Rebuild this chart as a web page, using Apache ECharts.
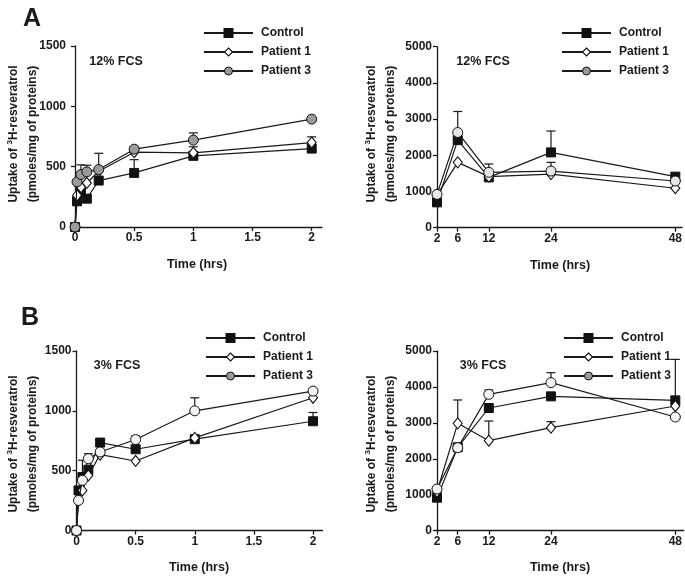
<!DOCTYPE html>
<html>
<head>
<meta charset="utf-8">
<script src="https://cdn.jsdelivr.net/npm/echarts@6/dist/echarts.min.js"></script>
<style>html,body{margin:0;padding:0;background:#fff}#c{width:685px;height:576px}</style>
</head>
<body>
<div id="c"></div>
<script>
// ---------- data ----------
var timeShort = [0, 0.017, 0.05, 0.1, 0.2, 0.5, 1, 2];
var timeLong = [2, 6, 12, 24, 48];
var shortTicks = [0, 0.5, 1, 1.5, 2];
var longTicks = [2, 6, 12, 24, 48];
var seriesNames = ['Control', 'Patient 1', 'Patient 3'];

// Panel A (12% FCS), short times
var ctrlA = [0, 213, 290, 235, 385, 448, 590, 650];
var p1A = [0, 262, 330, 365, 462, 620, 615, 700];
var p3A = [0, 374, 435, 457, 476, 645, 720, 894];
var ctrlAErr = [0, 0, 0, 0, 0, 110, 0, 0];
var p1AErr = [0, 0, 0, 0, 0, 0, 50, 47];
var p3AErr = [0, 0, 80, 55, 135, 20, 60, 0];

// Panel A (12% FCS), long times
var ctrlAL = [700, 2420, 1390, 2080, 1410];
var p1AL = [900, 1805, 1410, 1480, 1090];
var p3AL = [920, 2630, 1530, 1565, 1290];
var ctrlALErr = [0, 790, 0, 590, 0];
var p1ALErr = [0, 0, 0, 0, 0];
var p3ALErr = [0, 0, 230, 240, 0];

// Panel B (3% FCS), short times
var ctrlB = [0, 335, 447, 508, 735, 679, 763, 913];
var p1B = [0, 251, 335, 460, 634, 581, 774, 1109];
var p3B = [0, 251, 419, 600, 656, 760, 1000, 1165];
var ctrlBErr = [0, 0, 140, 0, 0, 0, 0, 73];
var p1BErr = [0, 0, 0, 0, 0, 0, 0, 0];
var p3BErr = [0, 60, 0, 42, 0, 30, 109, 0];

// Panel B (3% FCS), long times
var ctrlBL = [918, 2320, 3414, 3738, 3627];
var p1BL = [1085, 2987, 2505, 2866, 3469];
var p3BL = [1160, 2310, 3794, 4119, 3163];
var ctrlBLErr = [0, 0, 0, 0, 1140];
var p1BLErr = [0, 650, 547, 167, 0];
var p3BLErr = [0, 0, 120, 278, 0];

// ---------- chart ----------
var FONT = 'Liberation Sans, Arial, sans-serif';
var INK = '#1a1a1a';
function zip(xs, ys) { return xs.map(function (x, i) { return [x, ys[i]]; }); }
function zip3(xs, ys, es) { return xs.map(function (x, i) { return [x, ys[i], es[i]]; }); }

var grids = [
  { left: 71, top: 46, width: 251, height: 181 },
  { left: 437, top: 46.7, width: 248, height: 181 },
  { left: 76.5, top: 351, width: 246, height: 179.5 },
  { left: 437, top: 351, width: 248, height: 179.7 }
];
var xRanges = [[-0.034, 2.087], [2, 49.3], [0, 2.08], [2, 49.6]];
var yMax = [1500, 5000, 1500, 5000];
var yInt = [500, 1000, 500, 1000];

var xAxes = grids.map(function (g, i) {
  var ticks = (i % 2 === 0) ? shortTicks : longTicks;
  return {
    type: 'value', gridIndex: i, min: xRanges[i][0], max: xRanges[i][1],
    splitLine: { show: false },
    axisLine: { show: true, lineStyle: { color: INK, width: 1.3 } },
    axisTick: { show: true, length: 4, inside: false, customValues: ticks, lineStyle: { color: INK, width: 1.3 } },
    axisLabel: { customValues: ticks, color: INK, fontSize: 12, fontWeight: 'bold', fontFamily: FONT, margin: 5,
      formatter: function (v) { return String(v); } }
  };
});
var yAxes = grids.map(function (g, i) {
  return {
    type: 'value', gridIndex: i, min: 0, max: yMax[i], interval: yInt[i],
    splitLine: { show: false },
    axisLine: { show: true, lineStyle: { color: INK, width: 1.3 } },
    axisTick: { show: true, length: 4, lineStyle: { color: INK, width: 1.3 } },
    axisLabel: { color: INK, fontSize: 12, fontWeight: 'bold', fontFamily: FONT, margin: 5,
      formatter: function (v) { return String(v); } }
  };
});

var styles = [
  { symbol: 'rect', symbolSize: 9, itemStyle: { color: '#111', borderColor: '#111', borderWidth: 1 } },
  { symbol: 'diamond', symbolSize: [9, 11], itemStyle: { color: '#fff', borderColor: '#111', borderWidth: 1.1 } },
  { symbol: 'circle', symbolSize: 10, itemStyle: { color: '#999', borderColor: '#111', borderWidth: 1 } }
];
var p3FillByPanel = ['#9a9a9a', '#e6e6e6', '#f2f2f2', '#f2f2f2'];

var panels = [
  { x: timeShort, ys: [ctrlA, p1A, p3A], es: [ctrlAErr, p1AErr, p3AErr] },
  { x: timeLong, ys: [ctrlAL, p1AL, p3AL], es: [ctrlALErr, p1ALErr, p3ALErr] },
  { x: timeShort, ys: [ctrlB, p1B, p3B], es: [ctrlBErr, p1BErr, p3BErr] },
  { x: timeLong, ys: [ctrlBL, p1BL, p3BL], es: [ctrlBLErr, p1BLErr, p3BLErr] }
];

function renderErr(params, api) {
  var x = api.value(0), y = api.value(1), e = api.value(2);
  if (!e) return null;
  var p0 = api.coord([x, y]);
  var p1 = api.coord([x, y + e]);
  return {
    type: 'group', children: [
      { type: 'line', shape: { x1: p0[0], y1: p0[1], x2: p1[0], y2: p1[1] }, style: { stroke: INK, lineWidth: 1.2 } },
      { type: 'line', shape: { x1: p1[0] - 4.5, y1: p1[1], x2: p1[0] + 4.5, y2: p1[1] }, style: { stroke: INK, lineWidth: 1.2 } }
    ]
  };
}

var series = [];
panels.forEach(function (p, pi) {
  p.ys.forEach(function (ys, si) {
    series.push({
      type: 'custom', name: seriesNames[si] + ' err', xAxisIndex: pi, yAxisIndex: pi,
      renderItem: renderErr, data: zip3(p.x, ys, p.es[si]), z: 1, silent: true,
      encode: { x: 0, y: 1 }
    });
  });
  p.ys.forEach(function (ys, si) {
    var st = styles[si];
    var item = JSON.parse(JSON.stringify(st.itemStyle));
    if (si === 2) item.color = p3FillByPanel[pi];
    series.push({
      type: 'line', name: seriesNames[si], xAxisIndex: pi, yAxisIndex: pi,
      data: zip(p.x, ys), symbol: st.symbol, symbolSize: st.symbolSize,
      showAllSymbol: true, clip: false,
      itemStyle: item, lineStyle: { color: INK, width: 1.2 }, z: 3 + si, animation: false
    });
  });
});

var legendPos = [[198, 22], [556, 22], [200, 327], [558, 327]];
var legendData = [
  { name: 'Control', itemStyle: { color: '#111' } },
  { name: 'Patient 1', itemStyle: { color: '#fff', borderColor: '#111', borderWidth: 1.1 } },
  { name: 'Patient 3', itemStyle: { color: '#999', borderColor: '#111', borderWidth: 1 } }
];
var legends = legendPos.map(function (lp) {
  return {
    left: lp[0], top: lp[1], orient: 'vertical', itemWidth: 49, itemHeight: 10, itemGap: 7,
    selectedMode: false, data: legendData,
    textStyle: { color: INK, fontSize: 12, fontWeight: 'bold', fontFamily: FONT, padding: [0, 0, 0, 3] }
  };
});

function txt(x, y, text, size, extra) {
  var o = {
    type: 'text', x: x, y: y, z: 10,
    style: { text: text, fill: INK, font: 'bold ' + size + 'px ' + FONT, textAlign: 'center', textVerticalAlign: 'middle' }
  };
  if (extra) for (var k in extra) o[k] = extra[k];
  return o;
}
function yName(x, y) {
  return {
    type: 'text', x: x, y: y, rotation: Math.PI / 2, z: 10,
    style: {
      text: 'Uptake of {sup|3}H-resveratrol\n(pmoles/mg of proteins)',
      fill: INK, font: 'bold 12px ' + FONT, textAlign: 'center', textVerticalAlign: 'middle', lineHeight: 19,
      rich: { sup: { fontSize: 8, fontWeight: 'bold', fontFamily: FONT, fill: INK, padding: [0, 0, 7, 0] } }
    }
  };
}

var graphics = [
  txt(32, 19, 'A', 25),
  txt(30, 318, 'B', 25),
  txt(116, 62, '12% FCS', 12.5),
  txt(483, 62, '12% FCS', 12.5),
  txt(117, 366, '3% FCS', 12.5),
  txt(483, 366, '3% FCS', 12.5),
  txt(197, 265, 'Time (hrs)', 12.5),
  txt(560, 266, 'Time (hrs)', 12.5),
  txt(199, 568, 'Time (hrs)', 12.5),
  txt(560, 568, 'Time (hrs)', 12.5),
  yName(23, 134),
  yName(381, 134),
  yName(23, 444),
  yName(381, 444)
];

var chart = echarts.init(document.getElementById('c'), null, { renderer: 'canvas' });
chart.setOption({
  animation: false,
  backgroundColor: '#fff',
  grid: grids,
  xAxis: xAxes,
  yAxis: yAxes,
  legend: legends,
  series: series,
  graphic: graphics
});
</script>
</body>
</html>
